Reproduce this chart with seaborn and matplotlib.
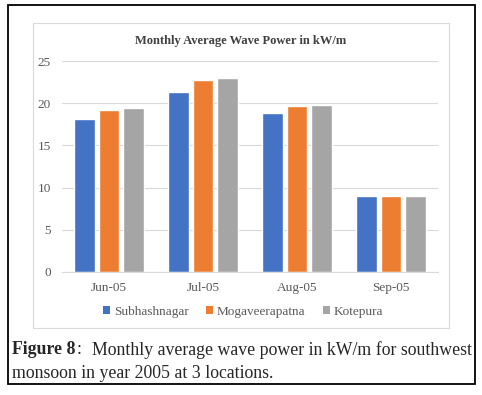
import matplotlib
matplotlib.use("Agg")
import matplotlib.pyplot as plt
import seaborn as sns
import pandas as pd
from matplotlib.patches import Rectangle, Patch

months = ["Jun-05", "Jul-05", "Aug-05", "Sep-05"]
locations = ["Subhashnagar", "Mogaveerapatna", "Kotepura"]
subhashnagar = [18.1, 21.3, 18.8, 9.0]
mogaveerapatna = [19.2, 22.7, 19.7, 8.98]
kotepura = [19.4, 23.0, 19.8, 9.0]
colors = ["#4472C4", "#ED7D31", "#A5A5A5"]

rows = []
for loc, vals in zip(locations, [subhashnagar, mogaveerapatna, kotepura]):
    for m, v in zip(months, vals):
        rows.append({"Month": m, "Location": loc, "Power": v})
df = pd.DataFrame(rows)

sns.set_style("white")
plt.rcParams["font.family"] = ["Liberation Serif", "DejaVu Serif"]

W, H = 482, 395
fig = plt.figure(figsize=(W / 100, H / 100), dpi=100)
fig.patch.set_facecolor("white")

def fx(px):
    return px / W

def fy(py):
    return 1 - py / H

# outer black border
fig.patches.append(Rectangle((fx(8), fy(384)), fx(475) - fx(8), fy(5) - fy(384),
                             transform=fig.transFigure, fill=False, edgecolor="black",
                             linewidth=1.3, zorder=0))
# inner chart area border
fig.patches.append(Rectangle((fx(33), fy(328)), fx(449) - fx(33), fy(23) - fy(328),
                             transform=fig.transFigure, fill=False, edgecolor="#D9D9D9",
                             linewidth=0.8, zorder=0))

ax = fig.add_axes([fx(62), fy(272), fx(438) - fx(62), fy(61) - fy(272)])
sns.barplot(data=df, x="Month", y="Power", hue="Location", order=months,
            hue_order=locations, palette=colors, width=0.78, gap=0.15,
            saturation=1, ax=ax, legend=False)
ax.set_xlim(-0.5, 3.5)
ax.set_ylim(0, 25)
ax.set_yticks([0, 5, 10, 15, 20, 25])
ax.yaxis.grid(True, color="#D9D9D9", linewidth=0.8)
ax.set_axisbelow(True)
for s in ["left", "right", "top"]:
    ax.spines[s].set_visible(False)
ax.spines["bottom"].set_color("#D9D9D9")
ax.tick_params(axis="both", length=0, labelsize=9.5, colors="#595959")
ax.tick_params(axis="y", pad=8)
ax.tick_params(axis="x", pad=7)
ax.set_xlabel("")
ax.set_ylabel("")

fig.text(fx(241), fy(41), "Monthly Average Wave Power in kW/m", ha="center", va="center",
         fontsize=9, fontweight="bold", color="#404040")

handles = [Patch(facecolor=c, edgecolor="none") for c in colors]
fig.legend(handles, locations, loc="center", bbox_to_anchor=(fx(243), fy(312)), ncol=3,
           frameon=False, fontsize=9.5, handlelength=0.55, handleheight=0.55,
           handletextpad=0.3, columnspacing=1.3, labelcolor="#595959")

cap_size = 12.8
t1 = fig.text(fx(12), fy(350), "Figure 8", ha="left", va="center", fontsize=cap_size,
              fontweight="bold")
fig.texts[-1]
ax.annotate(":", xy=(1, 0.5), xycoords=t1, xytext=(1, 0), textcoords="offset points",
            ha="left", va="center", fontsize=cap_size, annotation_clip=False)
fig.text(fx(472), fy(350), "Monthly average wave power in kW/m for southwest",
         ha="right", va="center", fontsize=cap_size)
fig.text(fx(12), fy(373), "monsoon in year 2005 at 3 locations.", ha="left", va="center",
         fontsize=cap_size)

fig.savefig("out.png", dpi=100, facecolor="white")
